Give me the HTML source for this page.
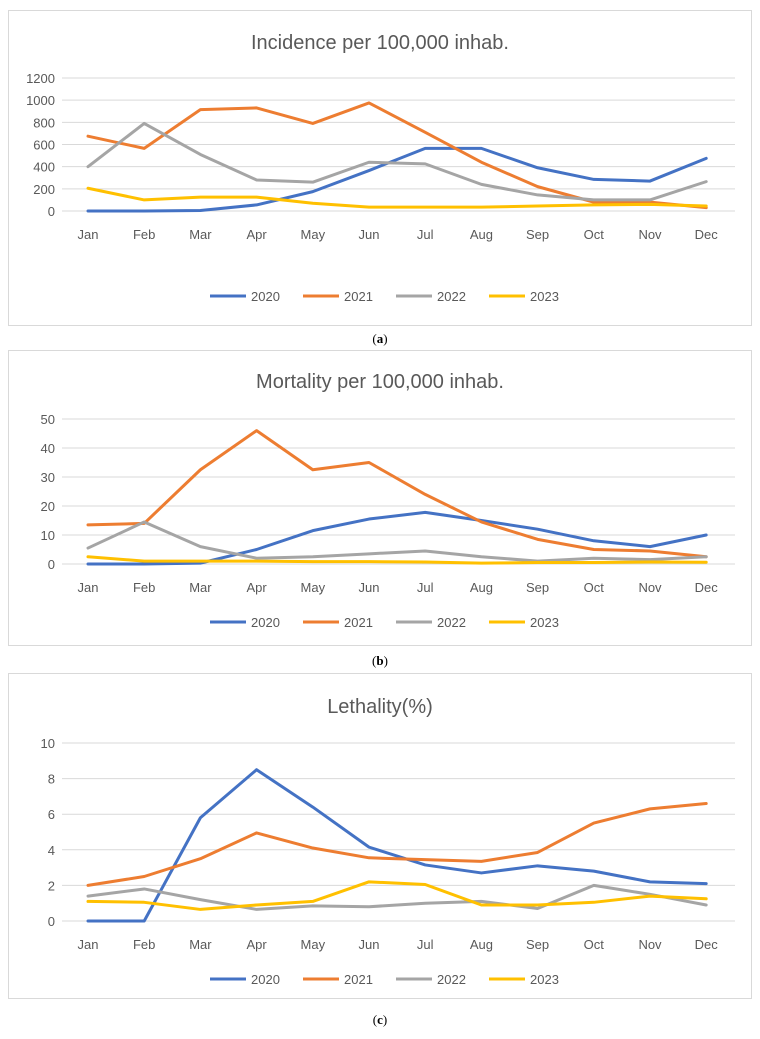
<!DOCTYPE html>
<html><head><meta charset="utf-8">
<style>
body{margin:0;background:#fff;font-family:"Liberation Sans",sans-serif;}
svg{display:block}
</style></head>
<body>
<svg id="s" width="760" height="1039" xmlns="http://www.w3.org/2000/svg"></svg>
<script>
const months=["Jan","Feb","Mar","Apr","May","Jun","Jul","Aug","Sep","Oct","Nov","Dec"];
const seriesNames=["2020","2021","2022","2023"];
const incidence2020=[0,0,5,55,175,365,565,565,390,285,270,475];
const incidence2021=[675,565,915,930,790,975,710,440,220,80,80,30];
const incidence2022=[400,790,510,280,260,440,425,240,145,100,100,265];
const incidence2023=[205,100,125,125,70,35,35,35,45,55,60,45];
const mortality2020=[0,0,0.3,5,11.5,15.5,17.8,15,12,8,6,10];
const mortality2021=[13.5,14,32.5,46,32.5,35,24,14.5,8.5,5,4.5,2.5];
const mortality2022=[5.5,14.5,6,2,2.5,3.5,4.5,2.5,1,2,1.5,2.5];
const mortality2023=[2.5,1,1,1,0.8,0.8,0.7,0.3,0.5,0.5,0.7,0.6];
const lethality2020=[0,0,5.8,8.5,6.4,4.15,3.15,2.7,3.1,2.8,2.2,2.1];
const lethality2021=[2,2.5,3.5,4.95,4.1,3.55,3.45,3.35,3.85,5.5,6.3,6.6];
const lethality2022=[1.4,1.8,1.2,0.65,0.85,0.8,1,1.1,0.7,2,1.5,0.9];
const lethality2023=[1.1,1.05,0.65,0.9,1.1,2.2,2.05,0.9,0.9,1.05,1.4,1.25];
const incTicks=[0,200,400,600,800,1000,1200];
const morTicks=[0,10,20,30,40,50];
const letTicks=[0,2,4,6,8,10];
const colors=["#4472C4","#ED7D31","#A5A5A5","#FFC000"];
const NS="http://www.w3.org/2000/svg";
const svg=document.getElementById('s');
function el(t,a,p){const e=document.createElementNS(NS,t);for(const k in a)e.setAttribute(k,a[k]);(p||svg).appendChild(e);return e;}
function chart(cfg){
  const g=el('g',{});
  
  
  const fr=el('rect',{x:8.5,y:cfg.top+.5,width:743,height:cfg.h,fill:'#fff',stroke:'#d9d9d9'},g);
  
  
  const t=el('text',{x:380,y:cfg.titleY,'text-anchor':'middle','font-size':20,fill:'#595959'},g);
  t.textContent=cfg.title;
  
  
  const max=cfg.ticks[cfg.ticks.length-1];
  const y=v=>cfg.y0-(v/max)*(cfg.y0-cfg.yTop);
  const x=i=>88+i*56.2;
  cfg.ticks.forEach(tv=>{
    const l=el('line',{x1:62,x2:735,y1:y(tv),y2:y(tv),stroke:'#d9d9d9'},g);
    
    
    const tx=el('text',{x:55,y:y(tv)+5,'text-anchor':'end','font-size':13,fill:'#595959'},g);
    tx.textContent=tv;
    
    
  });
  months.forEach((m,i)=>{
    const tx=el('text',{x:x(i),y:cfg.y0+28,'text-anchor':'middle','font-size':13,fill:'#595959'},g);
    tx.textContent=m;
    
    
  });
  cfg.series.forEach((s,k)=>{
    const p=el('polyline',{points:s.map((v,i)=>x(i)+','+y(v)).join(' '),fill:'none',stroke:colors[k],'stroke-width':3,'stroke-linejoin':'round','stroke-linecap':'round'},g);
    
    
  });
  seriesNames.forEach((n,k)=>{
    const lx=210+k*93;
    const l=el('line',{x1:lx,x2:lx+36,y1:cfg.legY,y2:cfg.legY,stroke:colors[k],'stroke-width':3},g);
    
    
    const tx=el('text',{x:lx+41,y:cfg.legY+5,'font-size':13,fill:'#595959'},g);
    tx.textContent=n;
    
    
  });
  const c=el('text',{x:380,y:cfg.capY,'text-anchor':'middle','font-size':13,fill:'#000','font-family':'Liberation Serif, serif'},g);
  c.innerHTML='(<tspan font-weight="bold">'+cfg.cap+'</tspan>)';
  
  
}
chart({name:'incidence-chart',top:10,h:315,title:'Incidence per 100,000 inhab.',titleY:49,ticks:incTicks,y0:211,yTop:78,legY:296,capY:343,cap:'a',series:[incidence2020,incidence2021,incidence2022,incidence2023]});
chart({name:'mortality-chart',top:350,h:295,title:'Mortality per 100,000 inhab.',titleY:388,ticks:morTicks,y0:564,yTop:419,legY:622,capY:665,cap:'b',series:[mortality2020,mortality2021,mortality2022,mortality2023]});
chart({name:'lethality-chart',top:673,h:325,title:'Lethality(%)',titleY:713,ticks:letTicks,y0:921,yTop:743,legY:979,capY:1024,cap:'c',series:[lethality2020,lethality2021,lethality2022,lethality2023]});
</script>
</body></html>
